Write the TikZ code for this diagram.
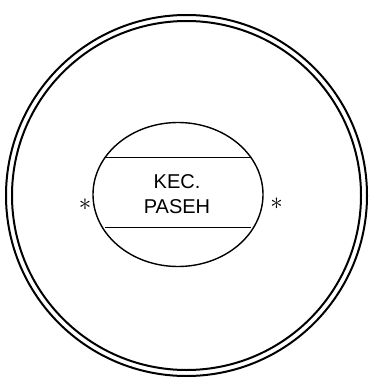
\documentclass[tikz,border=0pt]{standalone}
\usepackage{fontspec}
\setmainfont{Liberation Sans}
\usetikzlibrary{shapes.geometric}
\begin{document}
\begin{tikzpicture}[x=1pt,y=-1pt,
  ring/.style={draw=black,line width=2pt},
  oval/.style={ellipse,draw=black,line width=1.4pt,minimum width=170pt,minimum height=144pt,inner sep=0pt},
  bar/.style={draw=black,line width=1.6pt},
  lbl/.style={font=\fontsize{20}{25}\selectfont,align=center,inner sep=0pt},
  star/.style={font=\fontsize{24}{24}\selectfont,inner sep=0pt}]
\useasboundingbox (0,0) rectangle (370,377);
\coordinate (c) at (186.5,195.5);
\draw[ring] (c) circle[radius=180.5];
\draw[ring] (c) circle[radius=174.5];
\node[oval] (e) at (178,194.5) {};
\coordinate (t1) at (105.4,157.5);
\coordinate (t2) at (250.6,157.5);
\coordinate (b1) at (105.4,227.5);
\coordinate (b2) at (250.6,227.5);
\draw[bar] (t1) -- (t2);
\draw[bar] (b1) -- (b2);
\node[lbl] (name) at (177,194.5) {KEC.\\PASEH};
\node[star] (s1) at (85,204.5) {$\ast$};
\node[star] (s2) at (276.5,204) {$\ast$};
\end{tikzpicture}
\end{document}
